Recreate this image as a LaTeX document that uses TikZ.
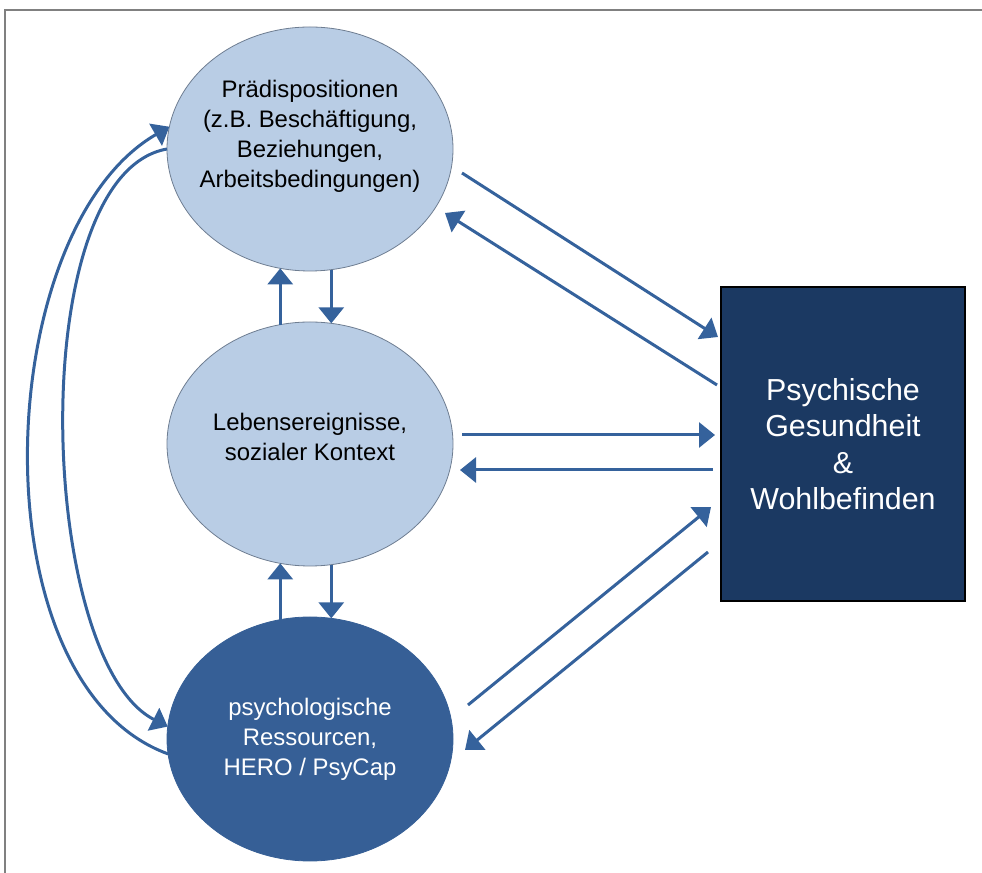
\documentclass[tikz,border=0pt]{standalone}
\usepackage{fontspec}
\setmainfont{Liberation Sans}
\usepackage{tkz-graph}
\usetikzlibrary{arrows.meta}
\usetikzlibrary{shapes}
\definecolor{lightblue}{HTML}{B9CDE5}
\definecolor{midblue}{HTML}{365F96}
\definecolor{navy}{HTML}{1B3962}
\definecolor{linkblue}{HTML}{35629C}
\definecolor{edgegray}{HTML}{6E7D91}
\definecolor{framegray}{HTML}{808080}

\begin{document}
\begin{tikzpicture}[x = 100bp, y = 100bp]
	\tikzstyle{VertexStyle} = []
	\tikzstyle{lightStyle} = [shape = ellipse, minimum width = 286bp, minimum height = 244bp, inner xsep = -40bp, draw = edgegray, line width = 0.8bp, fill = lightblue, align = center, font = \fontsize{24}{30}\selectfont]
	\tikzstyle{darkStyle} = [lightStyle, draw = midblue, fill = midblue, text = white]
	\tikzstyle{boxStyle} = [shape = rectangle, minimum width = 244bp, minimum height = 314bp, draw = black, line width = 1.2bp, fill = navy, text = white, align = center, font = \fontsize{30.5}{36.5}\selectfont]
	\tikzstyle{linkStyle} = [draw = linkblue, line width = 3bp, -{Triangle[width=25bp,length=16bp]}]
	\useasboundingbox (0, 0) rectangle (9.82, 8.73);
	\draw[framegray, line width = 1.5bp] (0.05, 0) -- (0.05, 8.63) -- (9.82, 8.63);
	\Vertex[style = lightStyle, x = 3.10, y = 7.24, L = {Prädispositionen\\(z.B. Beschäftigung,\\Beziehungen,\\Arbeitsbedingungen)\\ \mbox{}}]{praed}
	\Vertex[style = lightStyle, x = 3.10, y = 4.29, L = {Lebensereignisse,\\sozialer Kontext\\[-15bp] \mbox{}}]{leben}
	\Vertex[style = darkStyle, x = 3.10, y = 1.34, L = {psychologische\\Ressourcen,\\HERO / PsyCap}]{psych}
	\Vertex[style = boxStyle, x = 8.43, y = 4.29, L = {Psychische\\Gesundheit\\\&\\Wohlbefinden}]{wb}
	% up and down between the ellipses
	\draw[linkStyle] (leben.104.6) -- (praed.-104.6);
	\draw[linkStyle] (praed.-80.1) -- (leben.80.1);
	\draw[linkStyle] (psych.104.6) -- (leben.-104.6);
	\draw[linkStyle] (leben.-80.1) -- (psych.80.1);
	% long arcs on the left
	\draw[linkStyle] (psych.186.4) to[out = 160, in = 210, looseness = 0.84] (praed.171.3);
	\draw[linkStyle] (praed.180) to[out = 190, in = 153, looseness = 0.65] (psych.175.6);
	% to and from the box
	\draw[linkStyle] ([xshift = 9bp, yshift = -24bp]praed.east) -- ([xshift = -3bp, yshift = -50bp]wb.north west);
	\draw[linkStyle] ([xshift = -4bp, yshift = -98bp]wb.north west) -- ([xshift = -8bp, yshift = -64bp]praed.east);
	\draw[linkStyle] ([xshift = 9bp, yshift = 9bp]leben.east) -- ([xshift = -6bp, yshift = 9bp]wb.west);
	\draw[linkStyle] ([xshift = -8bp, yshift = -26bp]wb.west) -- ([xshift = 7bp, yshift = -26bp]leben.east);
	\draw[linkStyle] ([xshift = 15bp, yshift = 34bp]psych.east) -- ([xshift = -10bp, yshift = 94bp]wb.south west);
	\draw[linkStyle] ([xshift = -13bp, yshift = 49bp]wb.south west) -- ([xshift = 12bp, yshift = -11bp]psych.east);
\end{tikzpicture}
\end{document}
